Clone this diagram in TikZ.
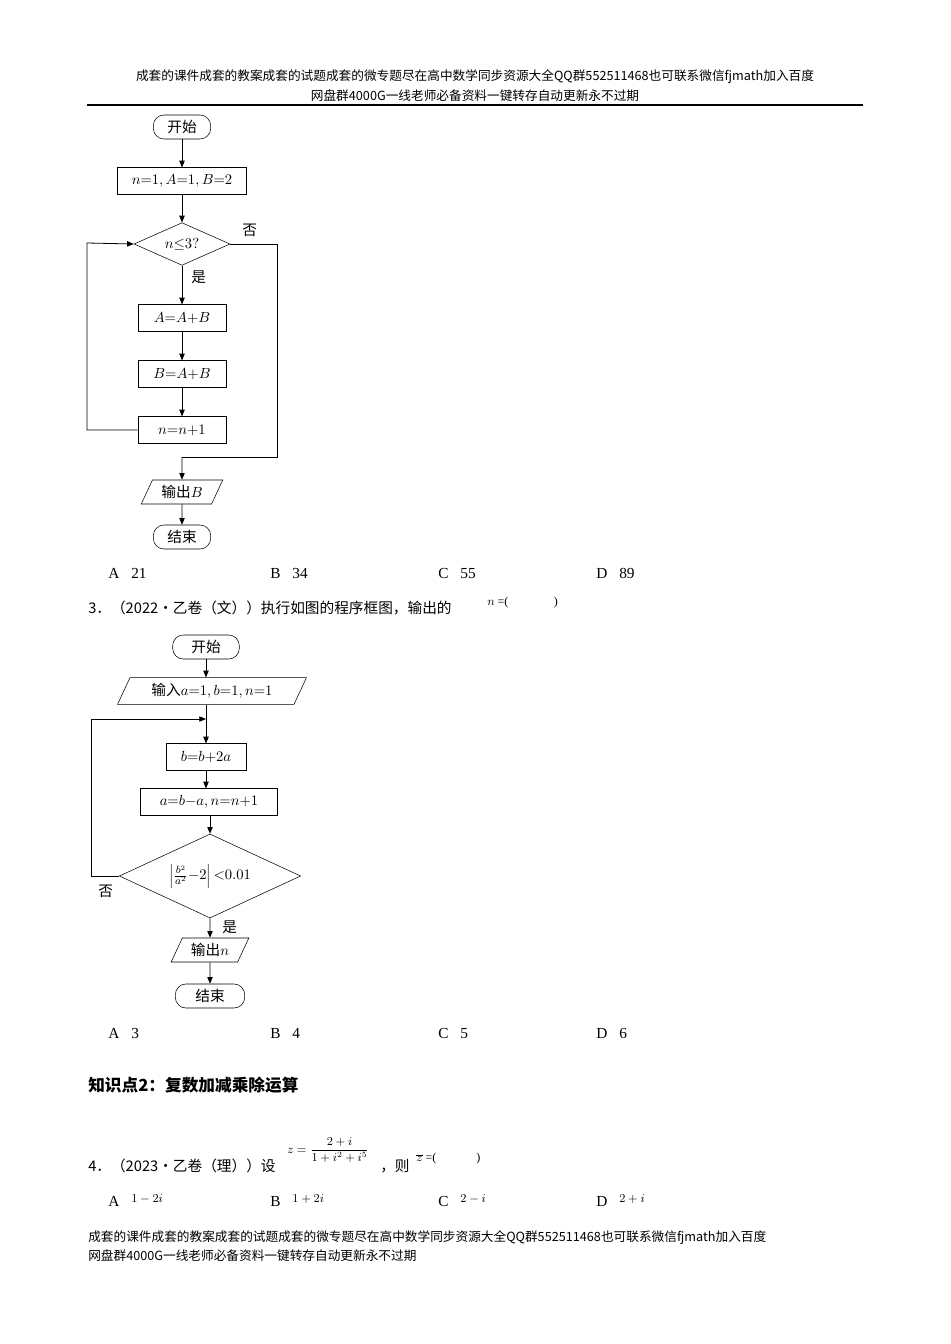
\documentclass[tikz,border=0pt]{standalone}
\usepackage{fontspec}
\setmainfont{Liberation Serif}
\newfontfamily\cjk{Noto Sans CJK SC}
\usetikzlibrary{shapes.geometric,arrows.meta}
\tikzset{
 term/.style={draw,rounded corners=8pt,minimum height=18pt,inner sep=2pt,font=\cjk\fontsize{11}{12}\selectfont},
 proc/.style={draw,minimum height=20pt,inner sep=3pt,font=\fontsize{11}{12}\selectfont},
 io/.style={draw,trapezium,trapezium left angle=65,trapezium right angle=115,minimum height=18pt,inner sep=2pt,font=\cjk\fontsize{11}{12}\selectfont},
 dec/.style={draw,diamond,aspect=2.2,inner sep=1pt,font=\fontsize{11}{12}\selectfont},
 arr/.style={-{Triangle[length=5pt,width=4pt]},line width=0.6pt},
 ln/.style={line width=0.6pt},
 txt/.style={anchor=west,inner sep=0pt,font=\cjk\fontsize{11}{13}\selectfont},
 hd/.style={inner sep=0pt,font=\cjk\fontsize{9.5}{11}\selectfont},
 opt/.style={anchor=west,inner sep=0pt,font=\fontsize{11.5}{13}\selectfont}
}
\begin{document}
\begin{tikzpicture}[x=0.75pt,y=-0.75pt]
\useasboundingbox[fill=white] (0,0) rectangle (950,1344);
\node[hd] (h1) at (475,77) {成套的课件成套的教案成套的试题成套的微专题尽在高中数学同步资源大全QQ群552511468也可联系微信fjmath加入百度};
\node[hd] (h2) at (475,96) {网盘群4000G一线老师必备资料一键转存自动更新永不过期};
\draw[line width=0.8pt] (87,105) -- (863,105);
% chart 1
\node[term,minimum width=43pt] (s1) at (182,127) {开始};
\node[proc,minimum width=97pt] (i1) at (182,181) {$n{=}1,A{=}1,B{=}2$};
\node[dec,minimum width=72pt,minimum height=32pt] (d1) at (182,244) {$n{\leq}3?$};
\node[proc,minimum width=66pt] (p1) at (182,318) {$A{=}A{+}B$};
\node[proc,minimum width=66pt] (p2) at (182,374) {$B{=}A{+}B$};
\node[proc,minimum width=66pt] (p3) at (182,430) {$n{=}n{+}1$};
\node[io,minimum width=52pt] (o1) at (182,492) {输出$B$};
\node[term,minimum width=43pt] (e1) at (182,537) {结束};
\draw[arr] (s1) -- (i1); \draw[arr] (i1) -- (d1);
\draw[arr] (d1) -- (p1); \draw[arr] (p1) -- (p2); \draw[arr] (p2) -- (p3);
\draw[arr] (o1) -- (e1);
\draw[arr] (p3.west) -- (87,430) -- (87,243) -- (d1.west);
\coordinate (c1) at (182,457);
\draw[ln] (d1.east) -- (277,244) -- (277,457) -- (c1);
\draw[arr] (c1) -- (o1);
\node[txt] (no1) at (242,230) {否};
\node[txt] (yes1) at (191,277) {是};
\node[opt] (a1) at (108,573) {A．21};
\node[opt] (b1) at (270,573) {B．34};
\node[opt] (cc1) at (438,573) {C．55};
\node[opt] (dd1) at (596,573) {D．89};
\node[txt] (q3) at (88,608) {3．（2022•乙卷（文））执行如图的程序框图，输出的};
\node[opt,font=\fontsize{9}{10}\selectfont] (q3b) at (487,603) {$n$ =(\hspace{34pt})};
% chart 2
\node[term,minimum width=50pt] (s2) at (206,647) {开始};
\node[io,minimum width=124pt,minimum height=20pt] (i2) at (212,691) {输入$a{=}1,b{=}1,n{=}1$};
\coordinate (m2) at (206,719);
\node[proc,minimum width=60pt] (p4) at (206,757) {$b{=}b{+}2a$};
\node[proc,minimum width=103pt] (p5) at (209,802) {$a{=}b{-}a,n{=}n{+}1$};
\node[dec,minimum width=136pt,minimum height=63pt,aspect=2.2] (d2) at (210,876) {$\left|\frac{b^2}{a^2}{-}2\right|{<}0.01$};
\node[io,minimum width=58pt] (o2) at (210,950) {输出$n$};
\node[term,minimum width=52pt] (e2) at (210,996) {结束};
\draw[arr] (s2) -- (s2|-i2.north);
\draw[ln] (206,705) -- (m2);
\draw[arr] (m2) -- (p4);
\draw[arr] (p4) -- (p4|-p5.north);
\draw[arr] (p5.south-|d2.north) -- (d2.north);
\draw[arr] (d2) -- (o2); \draw[arr] (o2) -- (e2);
\draw[arr] (d2.west) -- (91,876) -- (91,719) -- (m2);
\node[txt] (no2) at (98,891) {否};
\node[txt] (yes2) at (222,927) {是};
\node[opt] (a2) at (108,1033) {A．3};
\node[opt] (b2) at (270,1033) {B．4};
\node[opt] (cc2) at (438,1033) {C．5};
\node[opt] (dd2) at (596,1033) {D．6};
\node[txt,font=\cjk\bfseries\fontsize{12.5}{14}\selectfont] (kp) at (88,1085) {知识点2：复数加减乘除运算};
\node[txt] (q4) at (88,1166) {4．（2023•乙卷（理））设};
\node[opt,font=\fontsize{9}{10}\selectfont] (q4f) at (287,1150) {$\displaystyle z=\frac{2+i}{1+i^2+i^5}$};
\node[txt] (q4b) at (380,1166) {，则};
\node[opt,font=\fontsize{9}{10}\selectfont] (q4c) at (416,1159) {$\overline{z}$ =(\hspace{30pt})};
\node[opt] (a4) at (108,1201) {A．\raisebox{3pt}{\fontsize{9}{10}\selectfont$1-2i$}};
\node[opt] (b4) at (270,1201) {B．\raisebox{3pt}{\fontsize{9}{10}\selectfont$1+2i$}};
\node[opt] (c4) at (438,1201) {C．\raisebox{3pt}{\fontsize{9}{10}\selectfont$2-i$}};
\node[opt] (d4) at (596,1201) {D．\raisebox{3pt}{\fontsize{9}{10}\selectfont$2+i$}};
\node[hd,anchor=west] (f1) at (88,1238) {成套的课件成套的教案成套的试题成套的微专题尽在高中数学同步资源大全QQ群552511468也可联系微信fjmath加入百度};
\node[hd,anchor=west] (f2) at (88,1256) {网盘群4000G一线老师必备资料一键转存自动更新永不过期};
\end{tikzpicture}
\end{document}
